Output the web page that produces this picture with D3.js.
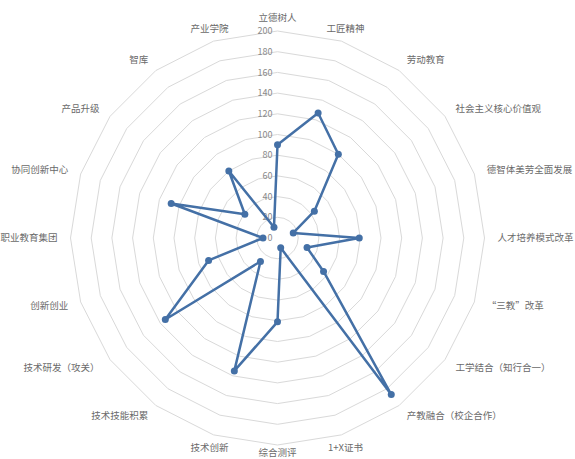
<!DOCTYPE html>
<html><head><meta charset="utf-8">
<script src="https://cdn.jsdelivr.net/npm/d3@7"></script>
<style>html,body{margin:0;padding:0;background:#fff;}svg{display:block;}</style>
</head><body>
<svg id="c" width="575" height="459"></svg>
<script>
const categories = ["立德树人","工匠精神","劳动教育","社会主义核心价值观","德智体美劳全面发展","人才培养模式改革","“三教”改革","工学结合（知行合一）","产教融合（校企合作）","1+X证书","综合测评","技术创新","技术技能积累","技术研发（攻关）","创新创业","职业教育集团","协同创新中心","产品升级","智库","产业学院"];
const values = [90,127,100,44,16,79,30,55,187,10,81,135,28,134,70,14,108,39,80,11];
const ticks = [0,20,40,60,80,100,120,140,160,180,200];

const svg = d3.select("#c");
const cx = 277.5, cy = 238, R = 207;
const r = d3.scaleLinear().domain([0,200]).range([0,R]);
const n = categories.length;
const ang = d3.scaleLinear().domain([0,n]).range([0,2*Math.PI]);
const g = svg.append("g").attr("transform",`translate(${cx},${cy})`);

// rings
const ringLine = d3.lineRadial().angle((d,i)=>ang(i)).radius(d=>r(d)).curve(d3.curveLinearClosed);
g.selectAll("path.ring").data(ticks.filter(t=>t>0)).join("path")
  .attr("class","ring")
  .attr("d",t=>ringLine(d3.range(n).map(()=>t)))
  .attr("fill","none").attr("stroke","#d9d9d9").attr("stroke-width",1);

// tick labels
g.selectAll("text.tick").data(ticks).join("text")
  .attr("class","tick")
  .attr("x",-5).attr("y",t=>-r(t)).attr("dy","0.35em")
  .attr("text-anchor","end")
  .attr("font-family","'Noto Sans CJK SC', 'DejaVu Sans', sans-serif")
  .attr("font-size",9).attr("fill","#8a8a8a")
  .text(t=>t);

// category labels
const LR = 220;
g.selectAll("text.cat").data(categories).join("text")
  .attr("class","cat")
  .attr("x",(d,i)=>LR*Math.sin(ang(i)))
  .attr("y",(d,i)=>Math.min(-LR*Math.cos(ang(i)), 215))
  .attr("dy","0.35em")
  .attr("text-anchor",(d,i)=>{const s=Math.sin(ang(i)); return s>0.4?"start":(s<-0.4?"end":"middle");})
  .attr("font-family","'Noto Sans CJK SC', sans-serif")
  .attr("font-size",9.5).attr("fill","#6a6a6a")
  .text(d=>d);

// series
const sLine = d3.lineRadial().angle((d,i)=>ang(i)).radius(d=>r(d)).curve(d3.curveLinearClosed);
g.append("path").attr("d",sLine(values))
  .attr("fill","none").attr("stroke","#4470a6").attr("stroke-width",2.5).attr("stroke-linejoin","round");
g.selectAll("circle.pt").data(values).join("circle")
  .attr("class","pt")
  .attr("cx",(d,i)=>r(d)*Math.sin(ang(i)))
  .attr("cy",(d,i)=>-r(d)*Math.cos(ang(i)))
  .attr("r",3.5).attr("fill","#4470a6");
</script>
</body></html>
